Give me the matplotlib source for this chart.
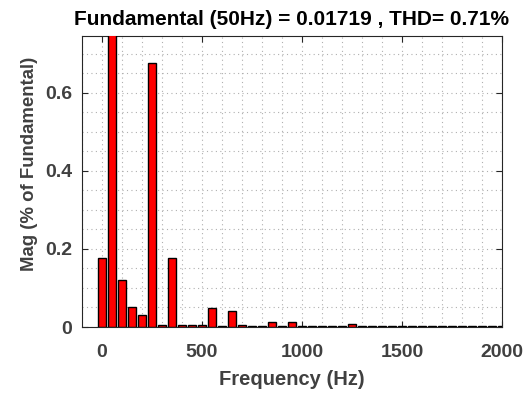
import matplotlib
matplotlib.use("Agg")
import matplotlib.pyplot as plt
from matplotlib.ticker import MultipleLocator

freqs = [0, 50, 100, 150, 200, 250, 300, 350, 400, 450, 500, 550, 600, 650, 700,
         750, 800, 850, 900, 950, 1000, 1050, 1100, 1150, 1200, 1250, 1300, 1350,
         1400, 1450, 1500, 1550, 1600, 1650, 1700, 1750, 1800, 1850, 1900, 1950, 2000]
mags = [0.176, 100.0, 0.121, 0.052, 0.031, 0.677, 0.005, 0.176, 0.005, 0.005, 0.006,
        0.048, 0.002, 0.041, 0.006, 0.002, 0.002, 0.014, 0.002, 0.014, 0.003, 0.002,
        0.002, 0.002, 0.002, 0.008, 0.002, 0.002, 0.002, 0.002, 0.002, 0.002, 0.002,
        0.002, 0.002, 0.002, 0.002, 0.002, 0.002, 0.002, 0.002]
title_text = "Fundamental (50Hz) = 0.01719 , THD= 0.71%"
x_ticks = [0, 500, 1000, 1500, 2000]
y_ticks = [0, 0.2, 0.4, 0.6]

plt.rcParams['font.family'] = ['Liberation Sans', 'DejaVu Sans']
fig = plt.figure(figsize=(5.27, 3.94), dpi=100)
ax = fig.add_axes([82/527, 1-327/394, 420/527, 291/394])

ax.bar(freqs, mags, width=40, color='#ff0000', edgecolor='black', linewidth=1.0, zorder=3)
ax.set_xlim(-100, 2000)
ax.set_ylim(0, 0.746)
ax.set_xticks(x_ticks)
ax.set_yticks(y_ticks)
ax.set_yticklabels(['0', '0.2', '0.4', '0.6'])
ax.xaxis.set_minor_locator(MultipleLocator(100))
ax.yaxis.set_minor_locator(MultipleLocator(0.05))
ax.grid(True, which='both', linestyle=(0, (1, 3)), color='#b0b0b0', linewidth=0.8, zorder=0)
ax.tick_params(which='major', direction='in', length=4, width=0.8, labelsize=14,
               colors='#262626', top=True, right=True)
ax.tick_params(axis='x', which='major', pad=12)
ax.tick_params(axis='y', which='major', pad=7)
ax.tick_params(which='minor', length=0)
for lab in ax.get_xticklabels() + ax.get_yticklabels():
    lab.set_fontweight('bold')
    lab.set_color('#404040')
for s in ax.spines.values():
    s.set_color('#262626')
    s.set_linewidth(0.8)
ax.set_title(title_text, fontsize=15, fontweight='bold', color='black', pad=8)
ax.set_xlabel("Frequency (Hz)", fontsize=14.5, fontweight='bold', color='#404040', labelpad=7)
ax.set_ylabel("Mag (% of Fundamental)", fontsize=13.4, fontweight='bold', color='#404040',
              labelpad=5, y=0.56)

fig.savefig("out.png", dpi=100)
